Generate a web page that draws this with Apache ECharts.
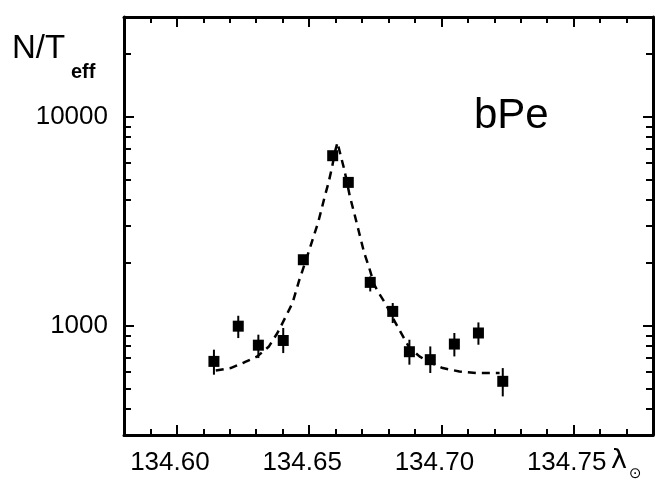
<!DOCTYPE html>
<html><head><meta charset="utf-8">
<script src="https://cdn.jsdelivr.net/npm/echarts@6/dist/echarts.min.js"></script>
<style>html,body{margin:0;padding:0;background:#fff}#c{width:661px;height:481px}</style>
</head><body><div id="c"></div>
<script>
// ---- data ----
const xMajorTicks = [134.60, 134.65, 134.70, 134.75];
const xMinorTicks = [134.59, 134.61, 134.62, 134.63, 134.64, 134.66, 134.67, 134.68, 134.69,
                     134.71, 134.72, 134.73, 134.74, 134.76, 134.77];
const yMajorTicks = [1000, 10000];
const yMinorTicks = [400, 500, 600, 700, 800, 900, 2000, 3000, 4000, 5000, 6000, 7000, 8000, 9000, 20000];

const pointX    = [134.6140, 134.6232, 134.6308, 134.6402, 134.6478, 134.6589, 134.6648, 134.6731, 134.6816, 134.6879, 134.6958, 134.7049, 134.7140, 134.7232];
const pointY    = [675, 995, 807, 850, 2069, 6508, 4850, 1612, 1171, 751, 688, 817, 923, 542];
const pointLow  = [583, 873, 700, 740, 1960, 6300, 4700, 1459, 1030, 651, 594, 713, 811, 459];
const pointHigh = [768, 1116, 906, 975, 2180, 6720, 5000, 1721, 1284, 857, 796, 923, 1037, 627];

const curveX = [134.6147, 134.6203, 134.6254, 134.6304, 134.6348, 134.6380, 134.6412, 134.6437, 134.6462, 134.6481,
                134.6503, 134.6519, 134.6535, 134.6548, 134.6559, 134.6573, 134.6586, 134.6598, 134.6607, 134.6620,
                134.6633, 134.6654, 134.6670, 134.6689, 134.6708, 134.6727, 134.6746, 134.6765, 134.6791, 134.6816,
                134.6847, 134.6879, 134.6917, 134.6948, 134.7005, 134.7068, 134.7131, 134.7220];
const curveY = [611, 627, 667, 713, 796, 923, 1108, 1284, 1642, 1937,
                2354, 2725, 3155, 3658, 4157, 4818, 5682, 6823, 7535, 6457,
                5578, 4157, 3474, 2786, 2235, 1894, 1571, 1423, 1260, 1092,
                926, 785, 713, 675, 627, 604, 594, 594];

const X_MIN = 134.58, X_MAX = 134.78, Y_MIN = 300, Y_MAX = 30000;

// ---- chart ----
const FONT = 'Liberation Sans';
const BLACK = '#000';

function xAxisDef(position, ticks, len, withLine, withLabel) {
  return {
    type: 'value', position: position, min: X_MIN, max: X_MAX, scale: true,
    splitLine: { show: false },
    axisLine: { show: withLine, onZero: false, lineStyle: { color: BLACK, width: 3 } },
    axisTick: { show: true, inside: true, length: len, customValues: ticks, lineStyle: { color: BLACK, width: 2 } },
    axisLabel: withLabel ? {
      show: true, customValues: ticks, color: BLACK, fontFamily: FONT, fontSize: 26, margin: 15,
      padding: [0, 14, 0, 0],
      formatter: v => Number(v).toFixed(2)
    } : { show: false }
  };
}
function yAxisDef(position, ticks, len, withLine, withLabel) {
  return {
    type: 'log', logBase: 10, position: position, min: Y_MIN, max: Y_MAX,
    splitLine: { show: false },
    axisLine: { show: withLine, onZero: false, lineStyle: { color: BLACK, width: 3 } },
    axisTick: { show: true, inside: true, length: len, customValues: ticks, lineStyle: { color: BLACK, width: 2 } },
    axisLabel: withLabel ? {
      show: true, customValues: ticks, color: BLACK, fontFamily: FONT, fontSize: 26, margin: 16,
      padding: [0, 0, 3, 0],
      formatter: v => String(Math.round(v))
    } : { show: false }
  };
}

const chart = echarts.init(document.getElementById('c'), null, { renderer: 'canvas' });
chart.setOption({
  animation: false,
  backgroundColor: '#fff',
  grid: { left: 124, right: 8, top: 17, bottom: 46, containLabel: false, outerBoundsMode: 'none' },
  xAxis: [
    xAxisDef('bottom', xMajorTicks, 10, true, true),
    xAxisDef('bottom', xMinorTicks, 6, false, false),
    xAxisDef('top', xMajorTicks, 10, true, false),
    xAxisDef('top', xMinorTicks, 6, false, false)
  ],
  yAxis: [
    yAxisDef('left', yMajorTicks, 10, true, true),
    yAxisDef('left', yMinorTicks, 7, false, false),
    yAxisDef('right', yMajorTicks, 10, true, false),
    yAxisDef('right', yMinorTicks, 7, false, false)
  ],
  graphic: [
    { type: 'text', left: 12, top: 32, style: { text: 'N/T', font: '33px "Liberation Sans"', fill: BLACK } },
    { type: 'text', left: 71, top: 62, style: { text: 'eff', font: 'bold 20px "Liberation Sans"', fill: BLACK } },
    { type: 'text', left: 474, top: 95, style: { text: 'bPe', font: '42px "Liberation Sans"', fill: BLACK } },
    { type: 'text', left: 611, top: 447, style: { text: 'λ', font: '27px "DejaVu Sans"', fill: BLACK } },
    { type: 'text', left: 629, top: 467, style: { text: '⊙', font: '15px "DejaVu Sans"', fill: BLACK } }
  ],
  series: [
    {
      type: 'line', xAxisIndex: 0, yAxisIndex: 0, z: 1,
      data: curveX.map((x, i) => [x, curveY[i]]),
      showSymbol: false, symbol: 'none', smooth: false,
      lineStyle: { color: BLACK, width: 2.5, type: [8, 6] }
    },
    {
      type: 'custom', xAxisIndex: 0, yAxisIndex: 0, z: 2,
      data: pointX.map((x, i) => [x, pointLow[i], pointHigh[i]]),
      encode: { x: 0, y: [1, 2] },
      renderItem: function (params, api) {
        const lo = api.coord([api.value(0), api.value(1)]);
        const hi = api.coord([api.value(0), api.value(2)]);
        return { type: 'line', shape: { x1: lo[0], y1: lo[1], x2: hi[0], y2: hi[1] },
                 style: { stroke: BLACK, lineWidth: 2 } };
      }
    },
    {
      type: 'scatter', xAxisIndex: 0, yAxisIndex: 0, z: 3,
      data: pointX.map((x, i) => [x, pointY[i]]),
      symbol: 'rect', symbolSize: 11,
      itemStyle: { color: BLACK, opacity: 1 }
    }
  ]
});
</script>
</body></html>
